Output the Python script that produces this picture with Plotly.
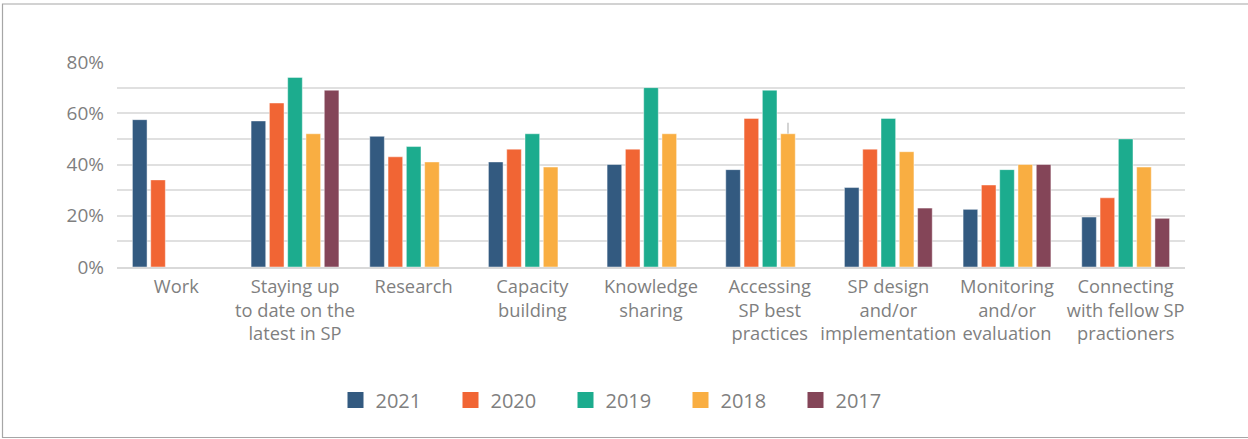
import plotly.graph_objects as go

# Purposes for using the platform, by survey year (share of respondents, %)
categories = [
    "Work",
    "Staying up<br>to date on the<br>latest in SP",
    "Research",
    "Capacity<br>building",
    "Knowledge<br>sharing",
    "Accessing<br>SP best<br>practices",
    "SP design<br>and/or<br>implementation",
    "Monitoring<br>and/or<br>evaluation",
    "Connecting<br>with fellow SP<br>practioners",
]

years = ["2021", "2020", "2019", "2018", "2017"]

values_2021 = [57.5, 57, 51, 41, 40, 38, 31, 22.5, 19.5]
values_2020 = [34, 64, 43, 46, 46, 58, 46, 32, 27]
values_2019 = [None, 74, 47, 52, 70, 69, 58, 38, 50]
values_2018 = [None, 52, 41, 39, 52, 52, 45, 40, 39]
values_2017 = [None, 69, None, None, None, None, 23, 40, 19]

# small upper whisker on one 2018 bar
err_2018 = [0, 0, 0, 0, 0, 4.3, 0, 0, 0]

y_tick_values = [0, 20, 40, 60, 80]
y_tick_labels = ["0%", "20%", "40%", "60%", "80%"]

colors = ["#335A80", "#F16534", "#1CAC8E", "#F9AE42", "#844558"]
series = [values_2021, values_2020, values_2019, values_2018, values_2017]

FONT = "Open Sans"
GREY = "#7f7f7f"

# figure geometry in pixels
W, H = 1248, 439
ML, MR, MT, MB = 117, 63, 62, 172

fig = go.Figure()

for year, vals, col in zip(years, series, colors):
    kw = {}
    if year == "2018":
        kw["error_y"] = dict(type="data", symmetric=False, array=err_2018,
                             arrayminus=[0] * len(err_2018), color="#d3d3d3",
                             thickness=2, width=0)
    fig.add_trace(go.Bar(
        x=categories, y=vals, name=year, showlegend=False,
        marker=dict(color=col, line=dict(color="rgba(255,255,255,0.45)", width=1)),
        **kw,
    ))

# legend entries with larger square swatches
for year, col in zip(years, colors):
    fig.add_trace(go.Scatter(
        x=[None], y=[None], mode="markers", name=year,
        marker=dict(symbol="square", size=20, color=col),
    ))

# outer frame around the whole chart
pw = W - ML - MR
ph = H - MT - MB
def px_x(p):
    return (p - ML) / pw
def px_y(p):
    return (H - MB - p) / ph

fig.add_shape(type="rect", xref="paper", yref="paper",
              x0=px_x(2.5), x1=px_x(W + 5), y0=px_y(437.5), y1=px_y(4),
              line=dict(color="#a6a6a6", width=1.2), fillcolor="rgba(0,0,0,0)",
              layer="below")

fig.update_layout(
    width=W, height=H,
    margin=dict(l=ML, r=MR, t=MT, b=MB),
    paper_bgcolor="white", plot_bgcolor="white",
    barmode="group", bargap=0.229, bargroupgap=0.2,
    font=dict(family=FONT, color=GREY, size=18),
    legend=dict(
        orientation="h", x=px_x(623), xanchor="center", y=px_y(400), yanchor="middle",
        font=dict(family=FONT, size=20, color=GREY),
        entrywidth=70, entrywidthmode="pixels", itemsizing="trace",
        bgcolor="rgba(0,0,0,0)",
    ),
)

fig.update_xaxes(
    type="category", showgrid=False, showline=True, linecolor="#d9d9d9", linewidth=1.5,
    ticks="", tickfont=dict(family=FONT, size=18.3, color=GREY), fixedrange=True,
    ticklabelstandoff=2,
)
fig.update_yaxes(
    range=[0, 80], tickmode="array", tickvals=y_tick_values, ticktext=y_tick_labels,
    showgrid=True, gridcolor="#e0e0e0", gridwidth=1.5,
    minor=dict(dtick=10, tick0=0, showgrid=True, gridcolor="#e0e0e0", gridwidth=1.5),
    zeroline=False, showline=False, ticks="",
    tickfont=dict(family=FONT, size=19, color=GREY), ticklabelstandoff=12,
)

fig.write_html("out.html")
